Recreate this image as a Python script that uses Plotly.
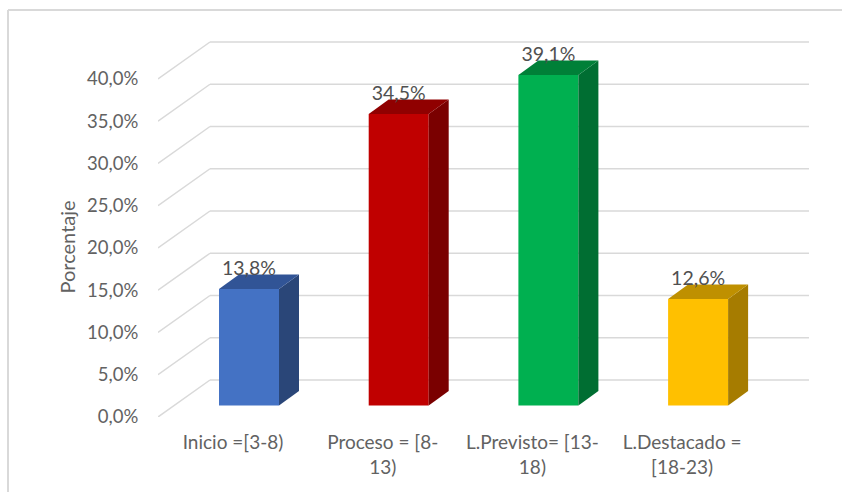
import plotly.graph_objects as go

categories = ["Inicio =[3-8)", "Proceso = [8-<br>13)", "L.Previsto= [13-<br>18)", "L.Destacado =<br>[18-23)"]
values = [13.8, 34.5, 39.1, 12.6]
front_colors = ["#4472C4", "#C00000", "#00B050", "#FFC000"]
side_colors = ["#2A4678", "#7A0000", "#006E32", "#A67C00"]
top_colors = ["#315496", "#900000", "#008038", "#BF9000"]
ticks = [0, 5, 10, 15, 20, 25, 30, 35, 40]
axis_title = "Porcentaje"

W, H = 842, 492
L, R, T, B = 158, 815, 35, 417
PX_PER_CAT = 149.7
PX_PER_VAL = 8.45
X0_PX = 249          # centre of first bar
Y0_PX = 405.5        # zero of bar plane
BAR_W = 60 / PX_PER_CAT
DX = 20 / PX_PER_CAT
DY = 14.5 / PX_PER_VAL
LABEL_DY = 9.5 / PX_PER_VAL
FRONT_DX = (158 - 174) / PX_PER_CAT   # front of the floor relative to the bar plane
FRONT_DY = (Y0_PX - 417) / PX_PER_VAL
BACK_DY = (Y0_PX - 380) / PX_PER_VAL
x_range = [(L - X0_PX) / PX_PER_CAT, (R - X0_PX) / PX_PER_CAT]
y_range = [(Y0_PX - B) / PX_PER_VAL, (Y0_PX - T) / PX_PER_VAL]
x_end = (809 - X0_PX) / PX_PER_CAT
x_front = x_range[0]
x_back = (210 - X0_PX) / PX_PER_CAT

fmt = lambda v: f"{v:.1f}%".replace(".", ",")
TXT = "#626262"
FONT = "Lato"
GRID = "#D9D9D9"

fig = go.Figure()
idx = list(range(len(values)))

fig.add_trace(go.Bar(x=idx, y=values, width=BAR_W, marker=dict(color=front_colors, line=dict(width=0)),
                     showlegend=False, hoverinfo="skip"))

for i, v in enumerate(values):
    xl, xr = i - BAR_W / 2, i + BAR_W / 2
    fig.add_trace(go.Scatter(x=[xr, xr + DX, xr + DX, xr, xr], y=[0, DY, v + DY, v, 0], mode="lines",
                             fill="toself", fillcolor=side_colors[i], line=dict(width=0),
                             showlegend=False, hoverinfo="skip"))
    fig.add_trace(go.Scatter(x=[xl, xr, xr + DX, xl + DX, xl], y=[v, v, v + DY, v + DY, v], mode="lines",
                             fill="toself", fillcolor=top_colors[i], line=dict(width=0),
                             showlegend=False, hoverinfo="skip"))

fig.add_trace(go.Scatter(x=idx, y=[v + LABEL_DY for v in values], mode="text", text=[fmt(v) for v in values],
                         textposition="top center", textfont=dict(family=FONT, size=19.5, color="#505050"),
                         showlegend=False, hoverinfo="skip", cliponaxis=False))

shapes = []
for t in ticks:
    shapes.append(dict(type="line", layer="below", xref="x", yref="y", x0=x_front, y0=t + FRONT_DY,
                       x1=x_back, y1=t + BACK_DY, line=dict(color=GRID, width=1.5)))
    shapes.append(dict(type="line", layer="below", xref="x", yref="y", x0=x_back, y0=t + BACK_DY,
                       x1=x_end, y1=t + BACK_DY, line=dict(color=GRID, width=1.5)))
shapes.append(dict(type="line", layer="below", xref="paper", yref="paper",
                   x0=(8 - L) / (R - L), x1=(842 - L) / (R - L),
                   y0=(B - 10) / (B - T), y1=(B - 10) / (B - T), line=dict(color=GRID, width=2)))
shapes.append(dict(type="line", layer="below", xref="paper", yref="paper",
                   x0=(8 - L) / (R - L), x1=(8 - L) / (R - L),
                   y0=(B - 492) / (B - T), y1=(B - 10) / (B - T), line=dict(color=GRID, width=2)))

fig.update_layout(
    width=W, height=H, margin=dict(l=L, r=W - R, t=T, b=H - B),
    paper_bgcolor="white", plot_bgcolor="white", shapes=shapes, showlegend=False,
    xaxis=dict(range=x_range, tickmode="array", tickvals=[i + FRONT_DX for i in idx], ticktext=categories,
               showgrid=False, zeroline=False, showline=False, ticks="outside", ticklen=8,
               tickcolor="rgba(0,0,0,0)", tickangle=0, tickfont=dict(family=FONT, size=19, color=TXT)),
    yaxis=dict(range=y_range, tickmode="array", tickvals=[t + FRONT_DY for t in ticks], ticktext=[fmt(t) for t in ticks],
               showgrid=False, zeroline=False, showline=False, ticks="outside", ticklen=15,
               tickcolor="rgba(0,0,0,0)", tickfont=dict(family=FONT, size=18.5, color=TXT)),
    annotations=[dict(text=axis_title, textangle=-90, xref="paper", yref="paper", showarrow=False,
                      x=(66.5 - L) / (R - L), y=(B - 247) / (B - T), xanchor="center", yanchor="middle",
                      font=dict(family=FONT, size=20, color=TXT))],
)
fig.write_html("out.html", config={"displayModeBar": False},
               post_script="document.body.style.margin='0';document.documentElement.style.overflow='hidden';")
